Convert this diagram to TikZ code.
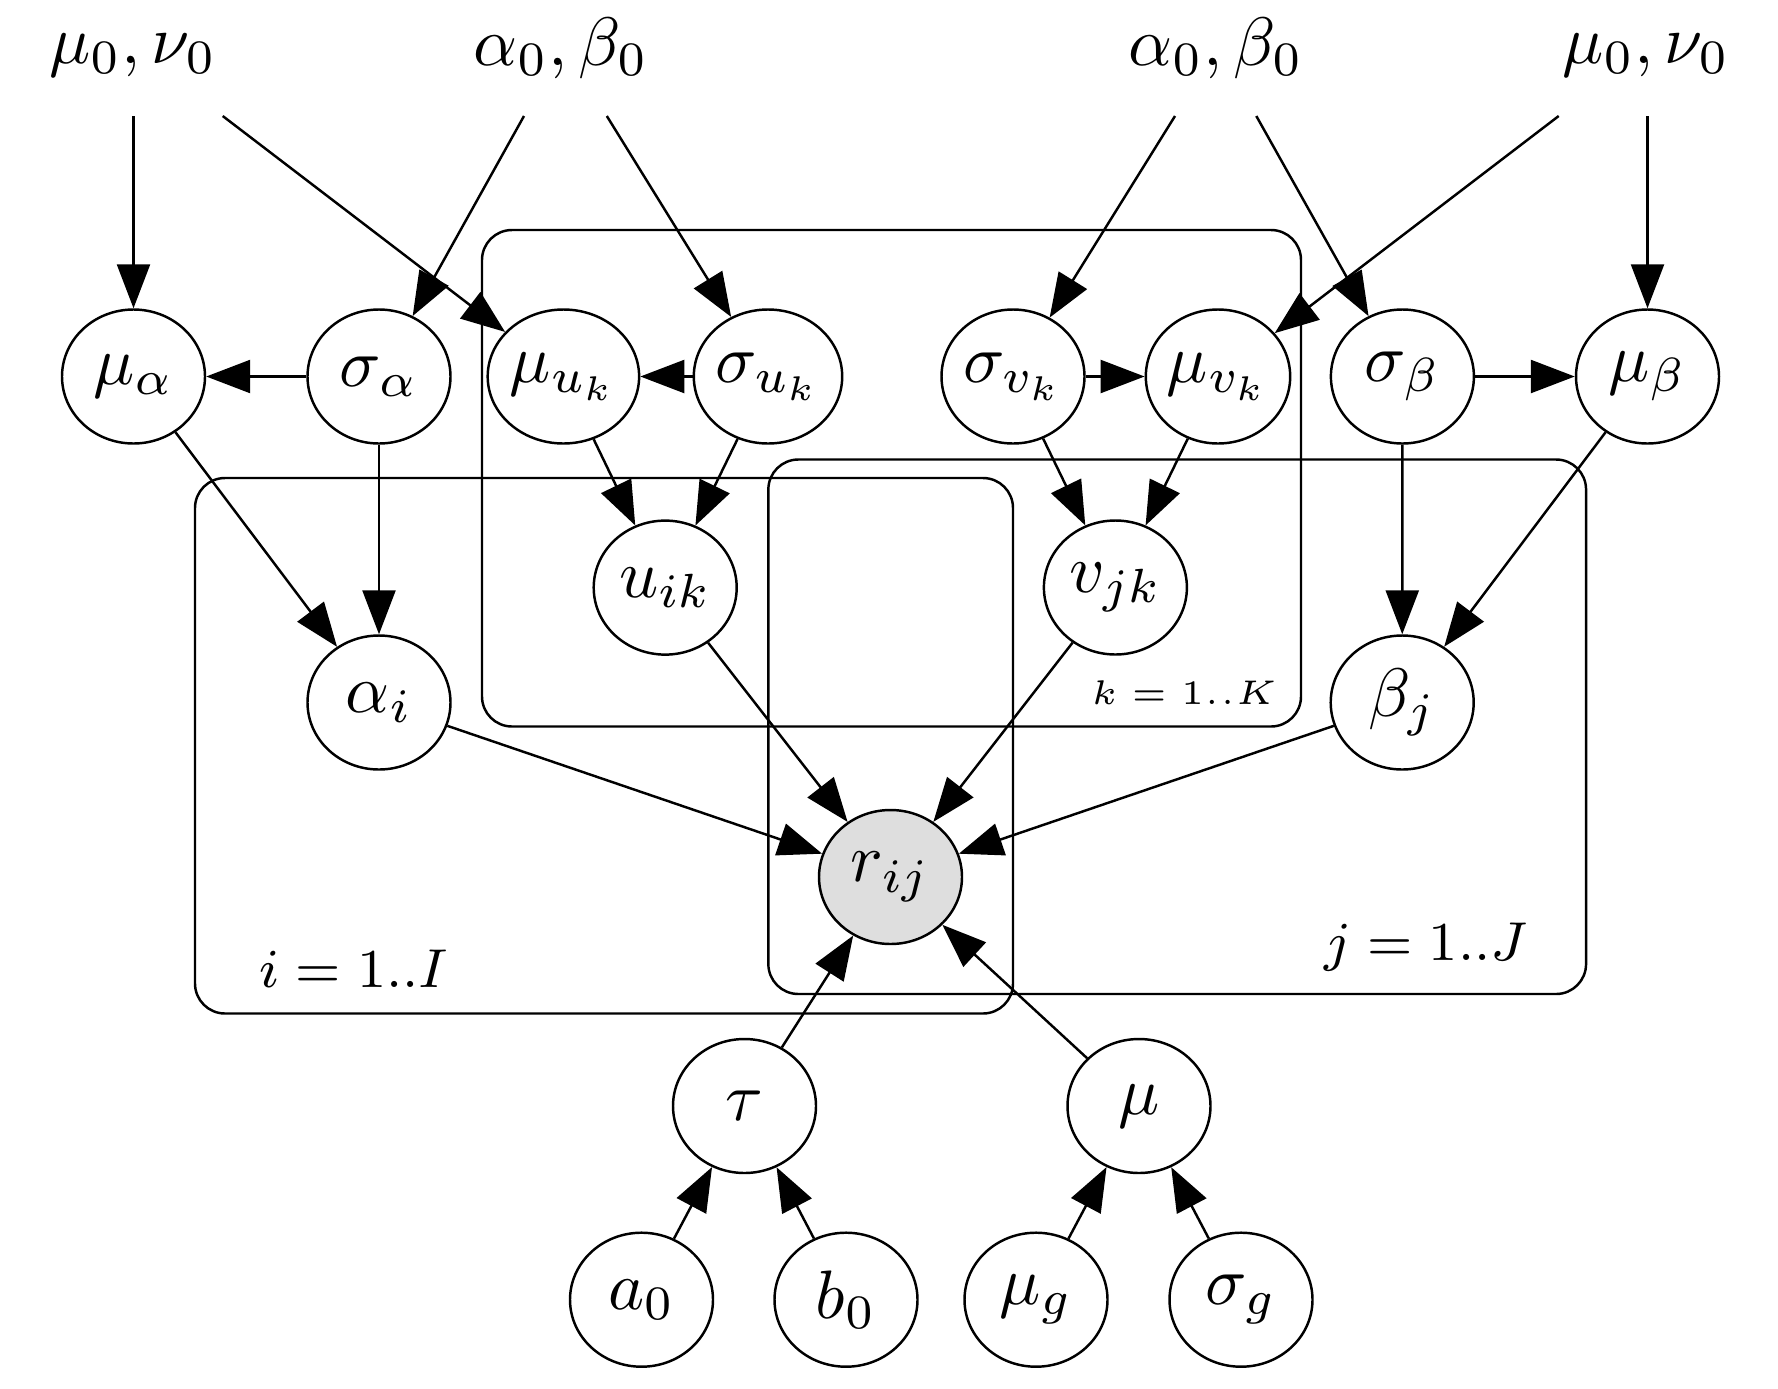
\documentclass[tikz,border=0pt]{standalone}
\usepackage{graphicx}
\usetikzlibrary{arrows.meta,shapes.geometric}
\definecolor{obsgray}{RGB}{222,222,222}
\newcommand{\gvtext}[1]{\scalebox{1.95}{#1}}
\begin{document}
\begin{tikzpicture}[x=1cm,y=1cm,
  var/.style={ellipse, draw, line width=0.7pt, fill=white, minimum width=1.43cm, minimum height=1.34cm, inner sep=0pt, font=\fontsize{10}{12}\selectfont},
  obs/.style={var, fill=obsgray},
  edge/.style={line width=0.7pt, -{Triangle[length=0.44cm,width=0.33cm]}},
  plate/.style={draw, line width=0.7pt, rounded corners=0.3cm, rectangle, inner sep=0pt},
  hyper/.style={font=\fontsize{10}{12}\selectfont, inner sep=0pt, anchor=base},
  platelab/.style={font=\fontsize{8.4}{10}\selectfont, inner sep=0pt, anchor=base},
  smalllab/.style={font=\fontsize{5.2}{6}\selectfont, inner sep=0pt, anchor=base},
]
\useasboundingbox (0,0) rectangle (17.78,-13.88);

% plates
\node[plate, minimum width=8.19cm, minimum height=4.965cm] (platek) at (8.915,-4.7825) {};
\node[plate, minimum width=8.18cm, minimum height=5.355cm] (platei) at (6.04,-7.4575) {};
\node[plate, minimum width=8.177cm, minimum height=5.345cm] (platej) at (11.772,-7.2675) {};
\node[smalllab] (labk) at (11.84,-7.04) {\gvtext{$k = 1..K$}};
\node[platelab] (labi) at (3.54,-9.875) {\gvtext{$i = 1..I$}};
\node[platelab] (labj) at (14.26,-9.606) {\gvtext{$j = 1..J$}};

% hyperparameters
\node[hyper] (h1) at (1.33,-0.63) {\gvtext{$\mu_0,\nu_0$}};
\node[hyper] (h2) at (5.61,-0.65) {\gvtext{$\alpha_0,\beta_0$}};
\node[hyper] (h3) at (12.16,-0.65) {\gvtext{$\alpha_0,\beta_0$}};
\node[hyper] (h4) at (16.46,-0.63) {\gvtext{$\mu_0,\nu_0$}};
\coordinate (s1) at (1.335,-1.16);
\coordinate (s2) at (2.227,-1.16);
\coordinate (s3) at (5.24,-1.16);
\coordinate (s4) at (6.068,-1.16);
\coordinate (s5) at (11.75,-1.16);
\coordinate (s6) at (12.563,-1.16);
\coordinate (s7) at (15.587,-1.16);
\coordinate (s8) at (16.475,-1.16);

% variables
\node[var] (muA) at (1.335,-3.765) {\gvtext{$\mu_\alpha$}};
\node[var] (sigA) at (3.79,-3.765) {\gvtext{$\sigma_\alpha$}};
\node[var] (muU) at (5.634,-3.765) {\gvtext{$\mu_{u_k}$}};
\node[var] (sigU) at (7.68,-3.765) {\gvtext{$\sigma_{u_k}$}};
\node[var] (sigV) at (10.13,-3.765) {\gvtext{$\sigma_{v_k}$}};
\node[var] (muV) at (12.18,-3.765) {\gvtext{$\mu_{v_k}$}};
\node[var] (sigB) at (14.024,-3.765) {\gvtext{$\sigma_\beta$}};
\node[var] (muB) at (16.475,-3.765) {\gvtext{$\mu_\beta$}};
\node[var] (u) at (6.652,-5.876) {\gvtext{$u_{ik}$}};
\node[var] (v) at (11.154,-5.875) {\gvtext{$v_{jk}$}};
\node[var] (alpha) at (3.79,-7.025) {\gvtext{$\alpha_i$}};
\node[var] (beta) at (14.022,-7.025) {\gvtext{$\beta_j$}};
\node[obs] (r) at (8.905,-8.77) {\gvtext{$r_{ij}$}};
\node[var] (tau) at (7.445,-11.06) {\gvtext{$\tau$}};
\node[var] (mu) at (11.39,-11.06) {\gvtext{$\mu$}};
\node[var] (a0) at (6.415,-12.997) {\gvtext{$a_0$}};
\node[var] (b0) at (8.46,-12.997) {\gvtext{$b_0$}};
\node[var] (mug) at (10.36,-12.997) {\gvtext{$\mu_g$}};
\node[var] (sigg) at (12.41,-12.997) {\gvtext{$\sigma_g$}};

% edges from hyperparameters
\draw[edge] (s1) -- (muA);
\draw[edge] (s2) -- (muU);
\draw[edge] (s3) -- (sigA);
\draw[edge] (s4) -- (sigU);
\draw[edge] (s5) -- (sigV);
\draw[edge] (s6) -- (sigB);
\draw[edge] (s7) -- (muV);
\draw[edge] (s8) -- (muB);

% row edges
\draw[edge] (sigA) -- (muA);
\draw[edge] (sigU) -- (muU);
\draw[edge] (sigV) -- (muV);
\draw[edge] (sigB) -- (muB);

\draw[edge] (muA) -- (alpha);
\draw[edge] (sigA) -- (alpha);
\draw[edge] (muU) -- (u);
\draw[edge] (sigU) -- (u);
\draw[edge] (sigV) -- (v);
\draw[edge] (muV) -- (v);
\draw[edge] (sigB) -- (beta);
\draw[edge] (muB) -- (beta);

\draw[edge] (alpha) -- (r);
\draw[edge] (u) -- (r);
\draw[edge] (v) -- (r);
\draw[edge] (beta) -- (r);
\draw[edge] (tau) -- (r);
\draw[edge] (mu) -- (r);

\draw[edge] (a0) -- (tau);
\draw[edge] (b0) -- (tau);
\draw[edge] (mug) -- (mu);
\draw[edge] (sigg) -- (mu);
\end{tikzpicture}
\end{document}
